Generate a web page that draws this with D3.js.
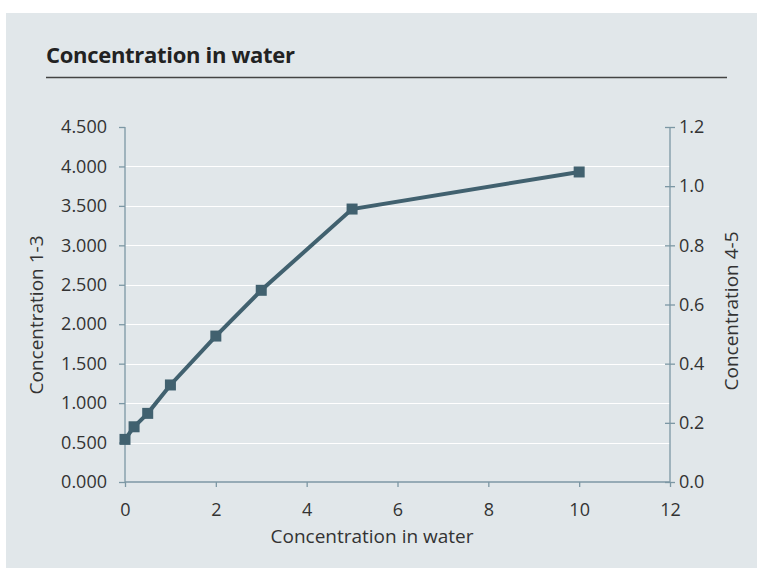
<!DOCTYPE html>
<html>
<head>
<meta charset="utf-8">
<script src="https://cdn.jsdelivr.net/npm/d3@7"></script>
<style>
  body { margin: 0; background: #fff; overflow: hidden; }
  text { font-family: "Open Sans", sans-serif; fill: #333; }
</style>
</head>
<body>
<div id="chart-area"></div>
<script>
// concentration in water vs concentration 1-3
var xValues = [0, 0.2, 0.5, 1, 2, 3, 5, 10];
var yValues = [0.54, 0.70, 0.87, 1.23, 1.85, 2.43, 3.46, 3.93];
var leftTicks = [0, 0.5, 1, 1.5, 2, 2.5, 3, 3.5, 4, 4.5];
var rightTicks = [0, 0.2, 0.4, 0.6, 0.8, 1.0, 1.2];
var xTicks = [0, 2, 4, 6, 8, 10, 12];

var W = 757, H = 568;
var margin = { left: 125, right: 87, top: 127, bottom: 86 };

var svg = d3.select("#chart-area").append("svg")
    .attr("width", W)
    .attr("height", H)
    .style("display", "block");

svg.append("rect")
    .attr("x", 6).attr("y", 13)
    .attr("width", W - 6).attr("height", H - 13)
    .attr("fill", "#e1e7ea");

svg.append("text")
    .attr("x", 46).attr("y", 63)
    .attr("font-size", 22).attr("font-weight", "bold")
    .attr("letter-spacing", -0.3)
    .style("fill", "#222")
    .text("Concentration in water");

svg.append("line")
    .attr("x1", 46).attr("x2", 727)
    .attr("y1", 77.5).attr("y2", 77.5)
    .attr("stroke", "#444").attr("stroke-width", 1.3);

var x = d3.scaleLinear().domain([0, 12]).range([margin.left, W - margin.right]);
var yL = d3.scaleLinear().domain([0, 4.5]).range([H - margin.bottom, margin.top]);
var yR = d3.scaleLinear().domain([0, 1.2]).range([H - margin.bottom, margin.top]);

// gridlines
svg.append("g").selectAll("line")
    .data(leftTicks.slice(1, -1))
    .enter().append("line")
    .attr("x1", margin.left).attr("x2", W - margin.right)
    .attr("y1", (d) => Math.round(yL(d)) + 0.5)
    .attr("y2", (d) => Math.round(yL(d)) + 0.5)
    .attr("stroke", "#fff").attr("stroke-width", 1.2);

var axisColor = "#7c97a4";
var fmt3 = d3.format(".3f");

var gL = svg.append("g")
    .attr("transform", "translate(" + margin.left + ",0)")
    .call(d3.axisLeft(yL).tickValues(leftTicks).tickFormat(fmt3).tickSize(6).tickPadding(12));

var gR = svg.append("g")
    .attr("transform", "translate(" + (W - margin.right) + ",0)")
    .call(d3.axisRight(yR).tickValues(rightTicks).tickFormat(d3.format(".1f")).tickSize(5).tickPadding(4));
gR.selectAll(".tick line").attr("x1", -5);

var gX = svg.append("g")
    .attr("transform", "translate(0," + (H - margin.bottom) + ")")
    .call(d3.axisBottom(x).tickValues(xTicks).tickSize(5).tickPadding(16));

[gL, gR, gX].forEach((g) => {
    g.select(".domain").attr("stroke", axisColor).attr("stroke-width", 1.3);
    g.selectAll(".tick line").attr("stroke", axisColor).attr("stroke-width", 1.3);
    g.selectAll(".tick text")
        .attr("font-size", 18)
        .style("font-family", "'Open Sans', sans-serif")
        .style("fill", "#333");
});
gL.select(".domain").attr("d", "M0," + yL(4.5) + "V" + yL(0));
gR.select(".domain").attr("d", "M0," + yR(1.2) + "V" + yR(0));
gX.select(".domain").attr("d", "M" + x(0) + ",0H" + x(12));

// axis titles
svg.append("text")
    .attr("x", 372).attr("y", 543)
    .attr("text-anchor", "middle").attr("font-size", 19)
    .text("Concentration in water");

svg.append("text")
    .attr("transform", "translate(43,315) rotate(-90)")
    .attr("text-anchor", "middle").attr("font-size", 19)
    .text("Concentration 1-3");

svg.append("text")
    .attr("transform", "translate(738,311) rotate(-90)")
    .attr("text-anchor", "middle").attr("font-size", 19)
    .text("Concentration 4-5");

// series
var lineColor = "#41616f";
var pts = xValues.map((d, i) => [d, yValues[i]]);

svg.append("path")
    .datum(pts)
    .attr("fill", "none")
    .attr("stroke", lineColor)
    .attr("stroke-width", 4)
    .attr("d", d3.line().x((d) => x(d[0])).y((d) => yL(d[1])));

svg.selectAll("rect.marker")
    .data(pts)
    .enter().append("rect")
    .attr("class", "marker")
    .attr("x", (d) => x(d[0]) - 5.5)
    .attr("y", (d) => yL(d[1]) - 5.5)
    .attr("width", 11).attr("height", 11)
    .attr("fill", lineColor);
</script>
</body>
</html>
